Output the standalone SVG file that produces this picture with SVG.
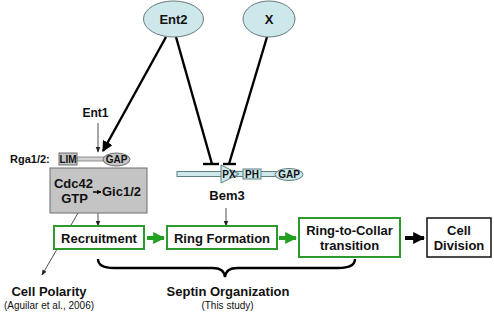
<svg xmlns="http://www.w3.org/2000/svg" width="494" height="316" viewBox="0 0 494 316">
  <style>
    text { font-family: "Liberation Sans", Arial, sans-serif; font-weight: bold; fill: #111; }
    .lbl { font-size: 13px; text-anchor: middle; }
    .sm { font-size: 10px; text-anchor: middle; }
    .cite { font-size: 10px; font-weight: normal; text-anchor: middle; }
    .oval { fill: #cde8eb; stroke: #6a7a7c; stroke-width: 1; }
    .dom { fill: #cde8eb; stroke: #5f7f82; stroke-width: 1; }
    .grey { fill: #c4c4c4; stroke: #6e6e6e; stroke-width: 1; }
    .step { fill: #fff; stroke: #2c9a2c; stroke-width: 2; }
    .final { fill: #fff; stroke: #111; stroke-width: 1.5; }
    .thick { stroke: #000; stroke-width: 2.4; fill: none; }
    .thin { stroke: #222; stroke-width: 0.8; fill: none; }
  </style>
  <defs>
    <marker id="headBig" viewBox="0 0 10 10" refX="9" refY="5" markerWidth="4.5" markerHeight="4.5" orient="auto">
      <path d="M0,0 L10,5 L0,10 z" fill="#000"/>
    </marker>
    <marker id="headSmall" viewBox="0 0 10 10" refX="9" refY="5" markerWidth="7" markerHeight="7" orient="auto">
      <path d="M0,1 L10,5 L0,9 z" fill="#222"/>
    </marker>
    <marker id="headGreen" viewBox="0 0 10 10" refX="9" refY="5" markerWidth="3" markerHeight="3" orient="auto">
      <path d="M0,0 L10,5 L0,10 z" fill="#22a022"/>
    </marker>
    <marker id="headBlack" viewBox="0 0 10 10" refX="9" refY="5" markerWidth="3" markerHeight="3" orient="auto">
      <path d="M0,0 L10,5 L0,10 z" fill="#000"/>
    </marker>
  </defs>

  <!-- connectors -->
  <g id="connectors">
    <!-- Ent2 activates Rga GAP -->
    <line class="thick" x1="166" y1="37" x2="103" y2="151" marker-end="url(#headBig)"/>
    <!-- Ent2 inhibits Bem3 PX -->
    <line class="thick" x1="176" y1="37" x2="212" y2="164"/>
    <line class="thick" x1="203" y1="164" x2="219" y2="164"/>
    <!-- X inhibits Bem3 PX -->
    <line class="thick" x1="267" y1="37" x2="229" y2="164"/>
    <line class="thick" x1="223" y1="164" x2="236" y2="164"/>
    <!-- Ent1 to Rga -->
    <line class="thin" x1="98" y1="123" x2="98" y2="152" marker-end="url(#headSmall)"/>
    <!-- Cdc42 to cell polarity -->
    <line class="thin" x1="78" y1="213" x2="42" y2="275" marker-end="url(#headSmall)"/>
    <!-- Cdc42 to recruitment -->
    <line class="thin" x1="98" y1="213" x2="98" y2="226" marker-end="url(#headSmall)"/>
    <!-- Bem3 to ring formation -->
    <line class="thin" x1="226" y1="208" x2="226" y2="226" marker-end="url(#headSmall)"/>
    <!-- pathway steps -->
    <line x1="147" y1="238" x2="164" y2="238" stroke="#22a022" stroke-width="4" marker-end="url(#headGreen)"/>
    <line x1="279" y1="238" x2="296" y2="238" stroke="#22a022" stroke-width="4" marker-end="url(#headGreen)"/>
    <line x1="405" y1="238" x2="424" y2="238" stroke="#000" stroke-width="4" marker-end="url(#headBlack)"/>
    <!-- brace under septin steps -->
    <path class="thick" d="M98,259 C98,266 104,268 114,268 L212,268 C221,268 224,271 225,277 C226,271 229,268 238,268 L338,268 C348,268 355,266 355,259"/>
  </g>

  <g id="ent2">
    <ellipse class="oval" cx="173.5" cy="19" rx="30" ry="18"/>
    <text class="lbl" x="173.5" y="24">Ent2</text>
  </g>

  <g id="x">
    <ellipse class="oval" cx="269" cy="19" rx="26" ry="18"/>
    <text class="lbl" x="269" y="24">X</text>
  </g>

  <g id="ent1">
    <text x="95.5" y="117" font-size="12" text-anchor="middle">Ent1</text>
  </g>

  <g id="rga">
    <text x="10" y="163" font-size="11">Rga1/2:</text>
    <rect x="77" y="157" width="28" height="4" fill="#d2d2d2" stroke="#7a7a7a" stroke-width="0.8"/>
    <rect class="grey" x="59" y="153" width="18" height="12"/>
    <text class="sm" x="68" y="163">LIM</text>
    <ellipse class="grey" cx="116.5" cy="159.5" rx="13.5" ry="6.5"/>
    <text class="sm" x="116.5" y="163">GAP</text>
  </g>

  <g id="cdc42">
    <rect class="grey" x="50" y="168" width="97" height="45"/>
    <text class="lbl" x="73.5" y="188">Cdc42</text>
    <text class="lbl" x="74.5" y="203">GTP</text>
    <line x1="93" y1="192" x2="101" y2="192" stroke="#000" stroke-width="1.5" marker-end="url(#headBlack)"/>
    <text x="102" y="196" font-size="13">Gic1/2</text>
  </g>

  <g id="bem3">
    <rect class="dom" x="177" y="171.5" width="124" height="5"/>
    <polygon class="dom" points="221,165 221,183 239,174"/>
    <text x="229" y="178" font-size="10" text-anchor="middle">PX</text>
    <rect class="dom" x="243" y="169" width="18" height="10"/>
    <text x="252" y="178" font-size="10" text-anchor="middle">PH</text>
    <ellipse class="dom" cx="289" cy="174.5" rx="14" ry="6"/>
    <text x="289" y="178" font-size="10" text-anchor="middle">GAP</text>
    <text class="lbl" x="227" y="200">Bem3</text>
  </g>

  <g id="recruitment">
    <rect class="step" x="54" y="226" width="90" height="23"/>
    <text class="lbl" x="99" y="243">Recruitment</text>
  </g>

  <g id="ring-formation">
    <rect class="step" x="167" y="226" width="110" height="23"/>
    <text class="lbl" x="222" y="243">Ring Formation</text>
  </g>

  <g id="ring-to-collar">
    <rect class="step" x="299" y="218" width="101" height="39"/>
    <text class="lbl" x="349.5" y="235">Ring-to-Collar</text>
    <text class="lbl" x="349.5" y="250">transition</text>
  </g>

  <g id="cell-division">
    <rect class="final" x="427" y="218" width="64" height="39"/>
    <text class="lbl" x="459" y="235">Cell</text>
    <text class="lbl" x="459" y="250">Division</text>
  </g>

  <g id="cell-polarity">
    <text class="lbl" x="49" y="296">Cell Polarity</text>
    <text class="cite" x="49" y="309">(Aguilar et al., 2006)</text>
  </g>

  <g id="septin-organization">
    <text class="lbl" x="228" y="296">Septin Organization</text>
    <text class="cite" x="227.5" y="309">(This study)</text>
  </g>
</svg>
